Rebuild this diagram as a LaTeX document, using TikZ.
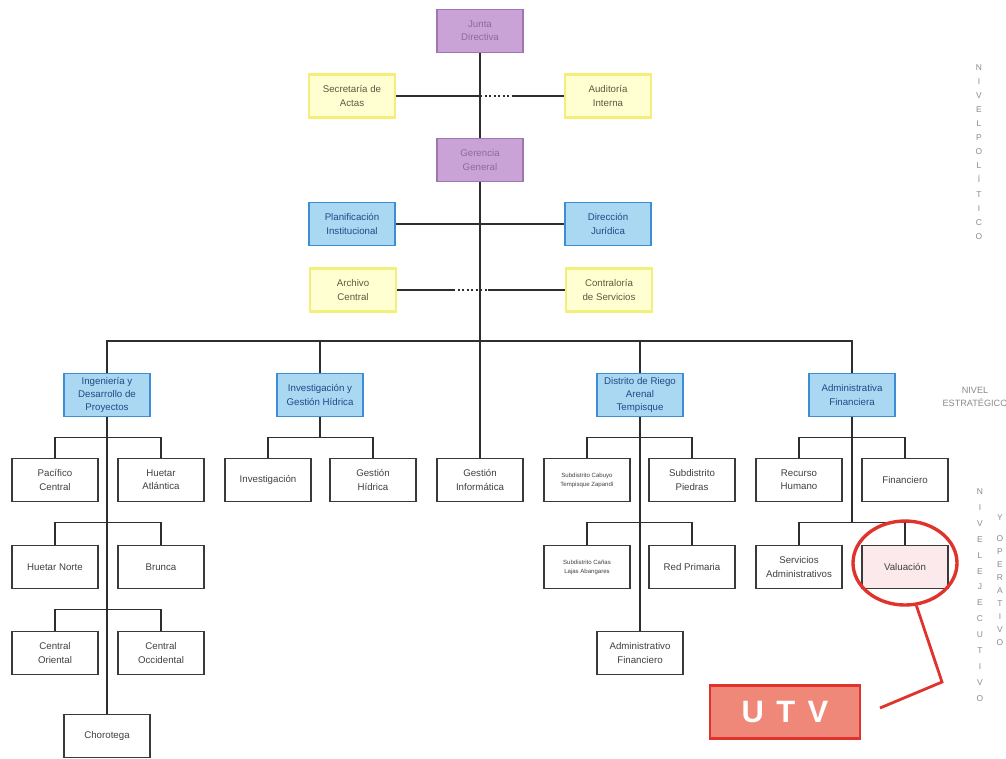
\documentclass[tikz,border=0pt]{standalone}
\usepackage{fontspec}
\setmainfont{Liberation Sans}
\usetikzlibrary{shapes.geometric}
\definecolor{purfill}{HTML}{C9A3D6}
\definecolor{purdraw}{HTML}{A274B6}
\definecolor{purtext}{HTML}{8C6A9E}
\definecolor{yelfill}{HTML}{FFFFD2}
\definecolor{yeldraw}{HTML}{F2F07A}
\definecolor{yeltext}{HTML}{5A5A40}
\definecolor{blufill}{HTML}{AAD8F2}
\definecolor{bludraw}{HTML}{3C8FD6}
\definecolor{blutext}{HTML}{1E4A86}
\definecolor{boxdraw}{HTML}{3A3A3A}
\definecolor{linecol}{HTML}{2E2E2E}
\definecolor{redc}{HTML}{E0332B}
\definecolor{utvfill}{HTML}{F0887A}
\definecolor{valfill}{HTML}{FCE9EB}
\definecolor{sidegray}{HTML}{8A8A8A}
\tikzset{
  base/.style={rectangle, minimum width=86*0.025cm, minimum height=43*0.025cm, inner sep=1pt, align=center, font=\fontsize{6.9}{9.3}\selectfont},
  purbox/.style={base, fill=purfill, draw=purdraw, line width=1.2pt, text=purtext},
  yelbox/.style={base, fill=yelfill, draw=yeldraw, line width=2pt, text=yeltext},
  blubox/.style={base, fill=blufill, draw=bludraw, line width=1.2pt, text=blutext},
  whbox/.style={base, fill=white, draw=boxdraw, line width=1pt, text=black!75},
  conn/.style={draw=linecol, line width=0.8pt},
  dotconn/.style={draw=linecol, line width=0.8pt, dash pattern=on 1.6pt off 1.6pt},
  sidetxt/.style={text=sidegray, align=center, inner sep=0pt},
}
\begin{document}
\begin{tikzpicture}[x=0.025cm, y=-0.025cm]
\useasboundingbox (0,0) rectangle (1006,758);
% top level
\node[purbox] (jd) at (480,31) {Junta\\Directiva};
\node[yelbox] (sa) at (352,96) {Secretaría de\\Actas};
\node[yelbox] (ai) at (608,96) {Auditoría\\Interna};
\node[purbox] (gg) at (480,160) {Gerencia\\General};
\node[blubox] (pi) at (352,224) {Planificación\\Institucional};
\node[blubox] (dj) at (608,224) {Dirección\\Jurídica};
\node[yelbox] (ac) at (353,290) {Archivo\\Central};
\node[yelbox] (cs) at (609,290) {Contraloría\\de Servicios};
% second level
\node[blubox] (ing) at (107,395) {Ingeniería y\\Desarrollo de\\Proyectos};
\node[blubox] (inv) at (320,395) {Investigación y\\Gestión Hídrica};
\node[blubox] (dr) at (640,395) {Distrito de Riego\\Arenal\\Tempisque};
\node[blubox] (adm) at (852,395) {Administrativa\\Financiera};
% third level
\node[whbox] (pc) at (55,480) {Pacífico\\Central};
\node[whbox] (ha) at (161,480) {Huetar\\Atlántica};
\node[whbox] (ivg) at (268,480) {Investigación};
\node[whbox] (gh) at (373,480) {Gestión\\Hídrica};
\node[whbox] (gi) at (480,480) {Gestión\\Informática};
\node[whbox, font=\fontsize{4.3}{6.5}\selectfont] (sct) at (587,480) {Subdistrito Cabuyo\\Tempisque Zapandí};
\node[whbox] (sp) at (692,480) {Subdistrito\\Piedras};
\node[whbox] (rh) at (799,480) {Recurso\\Humano};
\node[whbox] (fin) at (905,480) {Financiero};
% fourth level
\node[whbox] (hn) at (55,567) {Huetar Norte};
\node[whbox] (br) at (161,567) {Brunca};
\node[whbox, font=\fontsize{4.3}{6.5}\selectfont] (scl) at (587,567) {Subdistrito Cañas\\Lajas Abangares};
\node[whbox] (rp) at (692,567) {Red Primaria};
\node[whbox] (sad) at (799,567) {Servicios\\Administrativos};
\node[whbox, fill=valfill] (val) at (905,567) {Valuación};
% fifth level
\node[whbox] (co) at (55,653) {Central\\Oriental};
\node[whbox] (cc) at (161,653) {Central\\Occidental};
\node[whbox] (af) at (640,653) {Administrativo\\Financiero};
\node[whbox] (ch) at (107,736) {Chorotega};
% coordinates
\coordinate (d1a) at (480,96);
\coordinate (d1b) at (513,96);
\coordinate (d2a) at (453,290);
\coordinate (d2b) at (488,290);
\coordinate (busL) at (107,341);
\coordinate (busR) at (852,341);
% connectors
\path[conn] (jd.south) -- (gg.north);
\path[conn] (gg.south) -- (gi.north);
\path[conn] (sa.east) -- (d1a);
\path[dotconn] (d1a) -- (d1b);
\path[conn] (d1b) -- (ai.west);
\path[conn] (pi.east) -- (dj.west);
\path[conn] (ac.east) -- (d2a);
\path[dotconn] (d2a) -- (d2b);
\path[conn] (d2b) -- (cs.west);
\path[conn] (ing.north) -- (busL) -- (busR) -- (adm.north);
\path[conn] (inv.north) -- (inv.north |- busL);
\path[conn] (dr.north) -- (dr.north |- busL);
% sub-buses
\path[conn] (pc.north) -- ++(0,-20) -| (ha.north);
\path[conn] (hn.north) -- ++(0,-22) -| (br.north);
\path[conn] (co.north) -- ++(0,-21) -| (cc.north);
\path[conn] (ing.south) -- (ch.north);
\path[conn] (ivg.north) -- ++(0,-20) -| (gh.north);
\path[conn] (inv.south) -- (inv.south |- 0,438);
\path[conn] (sct.north) -- ++(0,-20) -| (sp.north);
\path[conn] (scl.north) -- ++(0,-22) -| (rp.north);
\path[conn] (dr.south) -- (af.north);
\path[conn] (rh.north) -- ++(0,-20) -| (fin.north);
\path[conn] (sad.north) -- ++(0,-22) -| (val.north);
\path[conn] (adm.south) -- (adm.south |- 0,523);
% highlight
\node[draw=redc, line width=2.4pt, ellipse, minimum width=104*0.025cm, minimum height=84*0.025cm, inner sep=0pt] (hl) at (905,563) {};
\node[rectangle, fill=utvfill, draw=redc, line width=1.6pt, minimum width=150*0.025cm, minimum height=53*0.025cm, text=white, font=\bfseries\fontsize{22}{24}\selectfont] (utv) at (785,712) {U\hspace{0.4em}T\hspace{0.4em}V};
\coordinate (bend) at (942,682);
\coordinate (rend) at (880,708);
\draw[redc, line width=2pt] (hl.-75) -- (bend) -- (rend);
% side labels
\node[sidetxt, font=\fontsize{6}{10}\selectfont] (np) at (979,152) {N\\I\\V\\E\\L\\P\\O\\L\\Í\\T\\I\\C\\O};
\node[sidetxt, font=\fontsize{6.5}{9}\selectfont] (ne) at (975,397) {NIVEL\\ESTRATÉGICO};
\node[sidetxt, font=\fontsize{6}{11.3}\selectfont] (nej) at (980,595) {N\\I\\V\\E\\L\\E\\J\\E\\C\\U\\T\\I\\V\\O};
\node[sidetxt, font=\fontsize{6}{9.2}\selectfont] (nop) at (1000,580) {Y\\[6pt]O\\P\\E\\R\\A\\T\\I\\V\\O};
\end{tikzpicture}
\end{document}
